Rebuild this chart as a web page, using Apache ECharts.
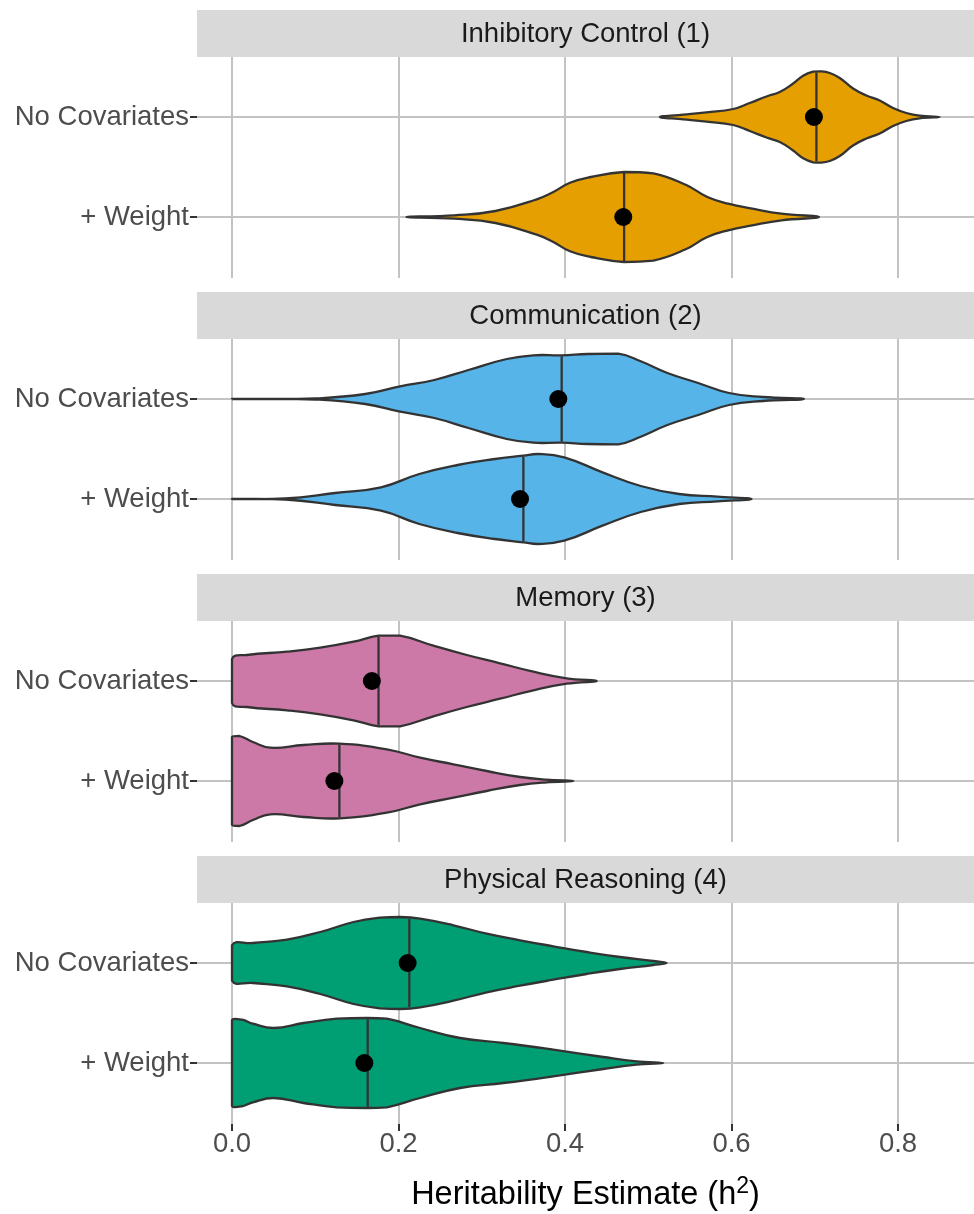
<!DOCTYPE html>
<html>
<head>
<meta charset="utf-8">
<script src="https://cdn.jsdelivr.net/npm/echarts@6/dist/echarts.min.js"></script>
<style>
  html, body { margin: 0; padding: 0; background: #fff; }
  #chart { width: 974px; height: 1214px; }
</style>
</head>
<body>
<div id="chart"></div>
<script>
// ---------------- data ----------------
const facets = ['Inhibitory Control (1)', 'Communication (2)', 'Memory (3)', 'Physical Reasoning (4)'];
const models = ['+ Weight', 'No Covariates'];          // bottom-to-top within a panel
const fillColors = ['#E69F00', '#56B4E9', '#CC79A7', '#009E73'];
const xTickStep = 0.2;

// violin outlines: heritability positions and half-widths (fraction of category spacing)
const icNoCovX = [0.514, 0.542, 0.570, 0.602, 0.622, 0.642, 0.658, 0.674, 0.686, 0.698, 0.706, 0.718, 0.730, 0.746, 0.762, 0.778, 0.794, 0.810, 0.826, 0.850];
const icNoCovW = [0, 0.023, 0.047, 0.080, 0.140, 0.205, 0.250, 0.335, 0.413, 0.453, 0.457, 0.440, 0.390, 0.285, 0.215, 0.165, 0.090, 0.040, 0.013, 0];
const icWeightX = [0.2095, 0.267, 0.3165, 0.366, 0.386, 0.406, 0.431, 0.471, 0.506, 0.545, 0.571, 0.596, 0.625, 0.660, 0.705];
const icWeightW = [0, 0.017, 0.060, 0.177, 0.250, 0.343, 0.400, 0.450, 0.437, 0.323, 0.200, 0.133, 0.083, 0.033, 0];

const comNoCovX = [0.000, 0.050, 0.101, 0.160, 0.202, 0.243, 0.284, 0.330, 0.362, 0.396, 0.427, 0.464, 0.491, 0.523, 0.560, 0.597, 0.638, 0.687];
const comNoCovW = [0, 0.002, 0.005, 0.050, 0.127, 0.190, 0.290, 0.400, 0.437, 0.437, 0.450, 0.453, 0.377, 0.260, 0.160, 0.060, 0.020, 0];
const comWeightX = [0.000, 0.064, 0.124, 0.179, 0.225, 0.271, 0.316, 0.350, 0.367, 0.399, 0.445, 0.491, 0.537, 0.583, 0.624];
const comWeightW = [0, 0.005, 0.060, 0.117, 0.250, 0.340, 0.400, 0.433, 0.450, 0.417, 0.267, 0.130, 0.050, 0.023, 0];

const memNoCovX = [0.000, 0.018, 0.066, 0.106, 0.146, 0.176, 0.202, 0.242, 0.282, 0.322, 0.362, 0.402, 0.438];
const memNoCovW = [0.220, 0.260, 0.293, 0.333, 0.393, 0.453, 0.453, 0.353, 0.260, 0.177, 0.093, 0.027, 0];
const memWeightX = [0.000, 0.009, 0.025, 0.046, 0.086, 0.129, 0.186, 0.226, 0.266, 0.306, 0.346, 0.378, 0.410];
const memWeightW = [0.440, 0.450, 0.390, 0.333, 0.360, 0.373, 0.317, 0.233, 0.167, 0.100, 0.040, 0.013, 0];

const phyNoCovX = [0.000, 0.025, 0.066, 0.106, 0.146, 0.178, 0.202, 0.226, 0.266, 0.306, 0.346, 0.386, 0.426, 0.466, 0.506, 0.522];
const phyNoCovW = [0.177, 0.200, 0.233, 0.310, 0.410, 0.453, 0.460, 0.443, 0.377, 0.293, 0.227, 0.167, 0.110, 0.060, 0.020, 0];
const phyWeightX = [0.000, 0.012, 0.025, 0.050, 0.086, 0.126, 0.162, 0.186, 0.226, 0.274, 0.326, 0.386, 0.446, 0.486, 0.518];
const phyWeightW = [0.427, 0.433, 0.393, 0.350, 0.400, 0.443, 0.450, 0.443, 0.350, 0.250, 0.200, 0.133, 0.060, 0.017, 0];

// medians (vertical line) and means (dot): [+ Weight, No Covariates]
const icMedians = [0.471, 0.702],  icMeans = [0.470, 0.699];
const comMedians = [0.350, 0.396], comMeans = [0.346, 0.392];
const memMedians = [0.129, 0.176], memMeans = [0.123, 0.168];
const phyMedians = [0.163, 0.213], phyMeans = [0.159, 0.211];

// ---------------- assembly ----------------
const profiles = [
  [{x: icWeightX, w: icWeightW}, {x: icNoCovX, w: icNoCovW}],
  [{x: comWeightX, w: comWeightW}, {x: comNoCovX, w: comNoCovW}],
  [{x: memWeightX, w: memWeightW}, {x: memNoCovX, w: memNoCovW}],
  [{x: phyWeightX, w: phyWeightW}, {x: phyNoCovX, w: phyNoCovW}]
];
const medians = [icMedians, comMedians, memMedians, phyMedians];
const means = [icMeans, comMeans, memMeans, phyMeans];

const FONT = '"Liberation Sans", Arial, Helvetica, sans-serif';
const GRID_COLOR = '#c3c3c3';
const OUTLINE = '#333333';
const PANEL_STEP = 282;

function halfAt(v, x) {
  for (let k = 0; k < v.x.length - 1; k++) {
    if (x >= v.x[k] && x <= v.x[k + 1]) {
      const t = (x - v.x[k]) / (v.x[k + 1] - v.x[k]);
      return v.w[k] + t * (v.w[k + 1] - v.w[k]);
    }
  }
  return 0;
}

function violinRenderer(panel, color) {
  return function (params, api) {
    const v = profiles[panel][params.dataIndex];
    const cat = api.value(1);
    const med = api.value(0);
    const step = api.size([0, 1])[1];
    const pts = [];
    for (let k = 0; k < v.x.length; k++) {
      const p = api.coord([v.x[k], cat]);
      pts.push([p[0], p[1] - v.w[k] * step]);
    }
    for (let k = v.x.length - 1; k >= 0; k--) {
      if (v.w[k] === 0) continue;
      const p = api.coord([v.x[k], cat]);
      pts.push([p[0], p[1] + v.w[k] * step]);
    }
    let minX = Infinity, minY = Infinity, maxX = -Infinity, maxY = -Infinity;
    pts.forEach(p => {
      minX = Math.min(minX, p[0]); maxX = Math.max(maxX, p[0]);
      minY = Math.min(minY, p[1]); maxY = Math.max(maxY, p[1]);
    });
    const pm = api.coord([med, cat]);
    const hm = halfAt(v, med) * step;
    return {
      type: 'group',
      children: [
        { type: 'polygon',
          shape: { points: pts, smooth: 0.45, smoothConstraint: [[minX, minY], [maxX, maxY]] },
          style: { fill: color, stroke: OUTLINE, lineWidth: 2.3, lineJoin: 'round' } },
        { type: 'line', shape: { x1: pm[0], y1: pm[1] - hm + 1, x2: pm[0], y2: pm[1] + hm - 1 },
          style: { stroke: OUTLINE, lineWidth: 2.3 } }
      ]
    };
  };
}

const grids = [], xAxes = [], yAxes = [], series = [], graphics = [];

// category grids (violins, y labels, horizontal gridlines)
for (let i = 0; i < 4; i++) {
  grids.push({ left: 197, width: 777, top: 117 + PANEL_STEP * i, height: 100,
               containLabel: false, outerBoundsMode: 'none' });
  const last = i === 3;
  xAxes.push({
    gridIndex: i, type: 'value', min: -0.04204, max: 0.89129,
    axisLine: { show: false, onZero: false }, axisTick: { show: false }, axisLabel: { show: false },
    splitLine: { show: false },
    name: last ? '{a|Heritability Estimate (h}{s|2}{a|)}' : '',
    nameLocation: 'middle', nameGap: 112,
    nameTextStyle: {
      rich: {
        a: { fontFamily: FONT, fontSize: 32.5, color: '#000', lineHeight: 40 },
        s: { fontFamily: FONT, fontSize: 23, color: '#000', lineHeight: 22, verticalAlign: 'top' }
      }
    }
  });
  yAxes.push({
    gridIndex: i, type: 'category', data: models, boundaryGap: false,
    axisLine: { show: false, onZero: false },
    axisTick: { show: true, length: 7, inside: false, lineStyle: { color: OUTLINE, width: 2 } },
    axisLabel: { show: true, interval: 0, margin: 8, fontFamily: FONT, fontSize: 27.5, color: '#4d4d4d' },
    splitLine: { show: true, lineStyle: { color: GRID_COLOR, width: 2 } }
  });
}
// full-height grids for the vertical gridlines and the bottom tick labels
for (let i = 0; i < 4; i++) {
  grids.push({ left: 232, width: 752, top: 57 + PANEL_STEP * i, height: 221,
               containLabel: false, outerBoundsMode: 'none' });
  const last = i === 3;
  xAxes.push({
    gridIndex: 4 + i, type: 'value', min: 0, max: 752 / 832.5, interval: xTickStep,
    axisLine: { show: false, onZero: false },
    axisTick: { show: last, length: 7, lineStyle: { color: OUTLINE, width: 2 } },
    axisLabel: { show: last, margin: 6, fontFamily: FONT, fontSize: 27.5, color: '#4d4d4d',
                 showMaxLabel: false, formatter: v => v.toFixed(1) },
    splitLine: { show: true, lineStyle: { color: GRID_COLOR, width: 2 } }
  });
  yAxes.push({ gridIndex: 4 + i, type: 'value', min: 0, max: 1, show: false,
               axisLine: { onZero: false } });
}

for (let i = 0; i < 4; i++) {
  series.push({
    type: 'custom', xAxisIndex: i, yAxisIndex: i, clip: false, z: 3,
    renderItem: violinRenderer(i, fillColors[i]),
    encode: { x: 0, y: 1 },
    data: medians[i].map((m, k) => [m, k]),
    silent: true
  });
  series.push({
    type: 'scatter', xAxisIndex: i, yAxisIndex: i, z: 5,
    symbol: 'circle', symbolSize: 18,
    itemStyle: { color: '#000', opacity: 1 },
    data: means[i].map((m, k) => [m, k]),
    silent: true
  });
  const top = 10 + PANEL_STEP * i;
  graphics.push({ type: 'rect', shape: { x: 197, y: top, width: 777, height: 47 },
                  style: { fill: '#d9d9d9' }, silent: true, z: 1 });
  graphics.push({ type: 'text', x: 585.5, y: top + 24, silent: true, z: 2,
                  style: { text: facets[i], fontFamily: FONT, fontSize: 27.5, fill: '#1a1a1a',
                           align: 'center', verticalAlign: 'middle',
                           textAlign: 'center', textVerticalAlign: 'middle' } });
}

const chart = echarts.init(document.getElementById('chart'), null, { renderer: 'canvas' });
chart.setOption({
  animation: false,
  backgroundColor: '#ffffff',
  grid: grids,
  xAxis: xAxes,
  yAxis: yAxes,
  series: series,
  graphic: graphics
});
</script>
</body>
</html>
